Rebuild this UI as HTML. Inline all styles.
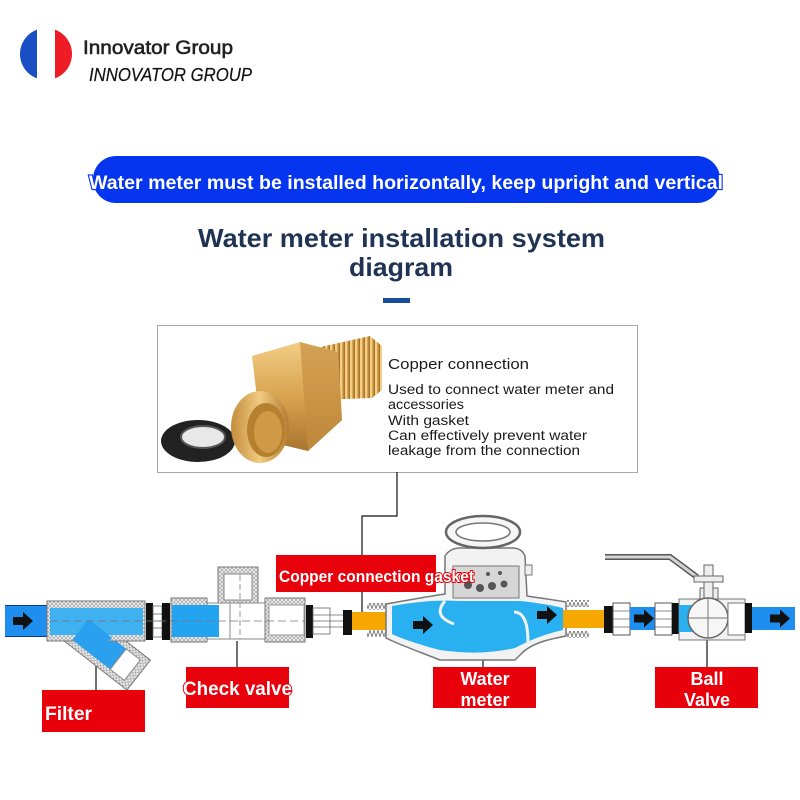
<!DOCTYPE html>
<html><head><meta charset="utf-8">
<style>html,body{margin:0;padding:0;background:#fff}svg{display:block}</style>
</head>
<body>
<svg width="800" height="800" viewBox="0 0 800 800" xmlns="http://www.w3.org/2000/svg" font-family="'Liberation Sans', Arial, sans-serif">
<defs>
<pattern id="hatch" width="4" height="4" patternUnits="userSpaceOnUse"><rect width="4" height="4" fill="#ececec"/><path d="M0 0L4 4M4 0L0 4" stroke="#9a9a9a" stroke-width="0.6"/></pattern>
<pattern id="thr" width="4" height="7" patternUnits="userSpaceOnUse"><path d="M0 7L2 0L4 7" fill="none" stroke="#777" stroke-width="0.9"/></pattern>
<pattern id="brassThr" width="5" height="60" patternUnits="userSpaceOnUse"><rect width="5" height="60" fill="#d9a553"/><rect width="2" height="60" fill="#f3cf86"/><rect x="3.5" width="1.5" height="60" fill="#a8742c"/></pattern>
<linearGradient id="brass" x1="0" y1="0" x2="0" y2="1"><stop offset="0" stop-color="#f2cd85"/><stop offset="0.5" stop-color="#d8a350"/><stop offset="1" stop-color="#a9742e"/></linearGradient>
<linearGradient id="brass2" x1="0" y1="0" x2="1" y2="0"><stop offset="0" stop-color="#c58c3c"/><stop offset="0.5" stop-color="#f0cb82"/><stop offset="1" stop-color="#b47d32"/></linearGradient>
<clipPath id="flagc"><circle cx="46" cy="54" r="26"/></clipPath>
<g id="arr"><path d="M0 -4 H10 V-9 L20 0 L10 9 V4 H0 Z" fill="#111"/></g>
</defs>

<!-- header -->
<g clip-path="url(#flagc)">
<rect x="18" y="26" width="19" height="56" fill="#1a4fc4"/>
<rect x="37" y="26" width="18" height="56" fill="#ffffff"/>
<rect x="55" y="26" width="20" height="56" fill="#ee1c25"/>
</g>
<text x="83" y="54" font-size="19.5" fill="#222" stroke="#222" stroke-width="0.6" textLength="150" lengthAdjust="spacingAndGlyphs">Innovator Group</text>
<text x="89" y="81" font-size="18" font-style="italic" fill="#111" stroke="#111" stroke-width="0.2" textLength="163" lengthAdjust="spacingAndGlyphs">INNOVATOR GROUP</text>

<!-- banner -->
<rect x="93" y="156" width="627" height="47" rx="23" fill="#0535ee"/>
<text x="89" y="189" font-size="19" font-weight="bold" fill="#fff" stroke="#0535ee" stroke-width="2.2" paint-order="stroke" textLength="634" lengthAdjust="spacingAndGlyphs">Water meter must be installed horizontally, keep upright and vertical</text>

<!-- title -->
<text x="198" y="247" font-size="26" font-weight="bold" fill="#1f3354" textLength="407" lengthAdjust="spacingAndGlyphs">Water meter installation system</text>
<text x="349" y="276" font-size="26" font-weight="bold" fill="#1f3354" textLength="104" lengthAdjust="spacingAndGlyphs">diagram</text>
<rect x="383" y="298" width="27" height="5" fill="#1a4c9c"/>

<!-- info box -->
<rect x="157.5" y="325.5" width="480" height="147" fill="#fff" stroke="#a8a8a8"/>
<!-- gasket -->
<ellipse cx="198" cy="441" rx="37" ry="21" fill="#222"/>
<ellipse cx="203" cy="437" rx="22" ry="11" fill="#e8e8e8" stroke="#555" stroke-width="2"/>
<!-- brass fitting -->
<polygon points="316,348 370,336 382,346 382,390 372,398 318,400" fill="url(#brassThr)"/>
<polygon points="252,356 300,342 338,352 342,420 308,451 262,440" fill="url(#brass)"/>
<polygon points="300,342 338,352 342,420 308,451" fill="#c48f42" opacity="0.7"/>
<ellipse cx="260" cy="427" rx="29" ry="36" fill="url(#brass2)"/>
<ellipse cx="266" cy="430" rx="19" ry="27" fill="#b7802f"/>
<ellipse cx="268" cy="432" rx="14" ry="21" fill="#cf9a48"/>

<text x="388" y="369" font-size="15" fill="#1a1a1a" textLength="141" lengthAdjust="spacingAndGlyphs">Copper connection</text>
<g font-size="13.5" fill="#1a1a1a">
<text x="388" y="394" textLength="226" lengthAdjust="spacingAndGlyphs">Used to connect water meter and</text>
<text x="388" y="409" textLength="76" lengthAdjust="spacingAndGlyphs">accessories</text>
<text x="388" y="425" textLength="81" lengthAdjust="spacingAndGlyphs">With gasket</text>
<text x="388" y="440" textLength="199" lengthAdjust="spacingAndGlyphs">Can effectively prevent water</text>
<text x="388" y="455" textLength="192" lengthAdjust="spacingAndGlyphs">leakage from the connection</text>
</g>

<!-- connectors -->
<g stroke="#111" stroke-width="1.2" fill="none">
<polyline points="397,472 397,516 362,516 362,612"/>
<line x1="96" y1="660" x2="96" y2="690"/>
<line x1="237" y1="641" x2="237" y2="667"/>
<line x1="483" y1="656" x2="483" y2="667"/>
<line x1="707" y1="638" x2="707" y2="667"/>
</g>

<!-- left pipe -->
<rect x="5" y="605" width="43" height="32" fill="#1e8fee"/>
<line x1="5" y1="605.5" x2="48" y2="605.5" stroke="#0a3a8a"/>
<line x1="5" y1="636.5" x2="48" y2="636.5" stroke="#0a3a8a"/>
<use href="#arr" x="13" y="621"/>

<!-- filter -->
<g transform="translate(104,648) rotate(38)">
<rect x="-38" y="-19" width="82" height="38" fill="url(#hatch)" stroke="#777"/>
<rect x="-30" y="-13" width="48" height="26" fill="#2aa0ee"/>
<rect x="18" y="-13" width="18" height="26" fill="#fff" stroke="#888"/>
</g>
<rect x="47" y="601" width="98" height="40" fill="url(#hatch)" stroke="#777"/>
<rect x="50" y="608" width="93" height="27" fill="#3fb0f0"/>
<g transform="translate(104,648) rotate(38)">
<rect x="-30" y="-13" width="30" height="26" fill="#2aa0ee"/>
</g>

<!-- gaskets after filter -->
<rect x="146" y="603" width="7" height="37" fill="#111"/>
<rect x="153" y="606" width="9" height="31" fill="#fff" stroke="#666" stroke-width="0.8"/>
<g stroke="#666" stroke-width="0.8"><line x1="153" y1="614" x2="162" y2="614"/><line x1="153" y1="621" x2="162" y2="621"/><line x1="153" y1="628" x2="162" y2="628"/></g>
<rect x="162" y="603" width="8" height="37" fill="#111"/>

<!-- check valve -->
<rect x="218" y="567" width="40" height="36" fill="url(#hatch)" stroke="#777"/>
<rect x="224" y="574" width="28" height="26" fill="#fff" stroke="#888"/>
<rect x="205" y="603" width="62" height="36" fill="#fff" stroke="#888"/>
<rect x="171" y="598" width="36" height="44" fill="url(#hatch)" stroke="#777"/>
<rect x="172" y="605" width="47" height="32" fill="#22a4f0"/>
<rect x="265" y="598" width="40" height="44" fill="url(#hatch)" stroke="#777"/>
<rect x="269" y="605" width="35" height="30" fill="#fff" stroke="#999"/>
<line x1="230" y1="603" x2="230" y2="639" stroke="#888"/>
<line x1="240" y1="575" x2="240" y2="639" stroke="#999" stroke-dasharray="6 3"/>
<line x1="50" y1="621" x2="305" y2="621" stroke="#777" stroke-dasharray="8 4" stroke-width="0.8"/>

<!-- gaskets before meter -->
<rect x="306" y="605" width="7" height="33" fill="#111"/>
<rect x="313" y="608" width="17" height="26" fill="#fff" stroke="#666" stroke-width="0.8"/>
<g stroke="#666" stroke-width="0.8"><line x1="313" y1="615" x2="343" y2="615"/><line x1="313" y1="621" x2="343" y2="621"/><line x1="313" y1="627" x2="343" y2="627"/></g>
<rect x="343" y="610" width="9" height="25" fill="#111"/>
<rect x="352" y="612" width="40" height="18" fill="#f6a800"/>
<rect x="367" y="603" width="22" height="7" fill="url(#thr)"/>
<rect x="367" y="630" width="22" height="7" fill="url(#thr)"/>

<!-- water meter -->
<path d="M386,604 C410,600 430,596 445,594 L445,556 Q450,548 460,548 L512,548 Q522,548 525,556 L527,596 C540,598 555,600 566,602 L566,636 C545,640 530,644 520,655 L515,660 L440,660 C420,652 400,645 386,638 Z" fill="#f2f2f2" stroke="#777" stroke-width="1.5"/>
<path d="M392,606 C420,601 440,600 460,601 L520,601 C540,603 555,606 563,608 L563,630 C545,634 530,640 515,648 Q480,656 440,650 C420,645 400,638 392,634 Z" fill="#29b0f0"/>
<path d="M445,601 Q432,616 454,624" fill="none" stroke="#f2f2f2" stroke-width="3"/>
<path d="M514,612 Q528,612 528,642" fill="none" stroke="#f2f2f2" stroke-width="3"/>
<rect x="453" y="566" width="66" height="32" fill="#d6d6d6" stroke="#777"/>
<g fill="#555"><circle cx="468" cy="585" r="4"/><circle cx="480" cy="588" r="4"/><circle cx="492" cy="586" r="4"/><circle cx="504" cy="584" r="3.5"/><circle cx="488" cy="574" r="2"/><circle cx="500" cy="573" r="2"/></g>
<rect x="525" y="565" width="7" height="10" fill="#eee" stroke="#777"/>
<ellipse cx="483" cy="532" rx="37" ry="16" fill="#f6f6f6" stroke="#666" stroke-width="2.5"/>
<ellipse cx="483" cy="532" rx="27" ry="9" fill="#fff" stroke="#777" stroke-width="1.5"/>
<use href="#arr" x="413" y="625"/>
<use href="#arr" x="537" y="615"/>

<!-- right side of meter -->
<rect x="563" y="610" width="41" height="18" fill="#f6a800"/>
<rect x="567" y="600" width="22" height="7" fill="url(#thr)"/>
<rect x="567" y="631" width="22" height="7" fill="url(#thr)"/>
<rect x="604" y="606" width="9" height="27" fill="#111"/>
<rect x="613" y="603" width="17" height="32" fill="#fff" stroke="#555"/>
<g stroke="#666" stroke-width="0.8"><line x1="613" y1="611" x2="630" y2="611"/><line x1="613" y1="619" x2="630" y2="619"/><line x1="613" y1="627" x2="630" y2="627"/></g>
<rect x="630" y="607" width="25" height="23" fill="#1e8fee"/>
<use href="#arr" x="634" y="618.5"/>
<rect x="655" y="603" width="17" height="32" fill="#fff" stroke="#555"/>
<g stroke="#666" stroke-width="0.8"><line x1="655" y1="611" x2="672" y2="611"/><line x1="655" y1="619" x2="672" y2="619"/><line x1="655" y1="627" x2="672" y2="627"/></g>
<rect x="672" y="603" width="7" height="31" fill="#111"/>

<!-- ball valve -->
<polyline points="605,557 670,557 697,577" fill="none" stroke="#555" stroke-width="6"/>
<polyline points="605,557 670,557 697,577" fill="none" stroke="#d4d4d4" stroke-width="3"/>
<rect x="700" y="588" width="18" height="12" fill="#eee" stroke="#666"/>
<rect x="704" y="565" width="9" height="35" fill="#eee" stroke="#666"/>
<rect x="694" y="576" width="29" height="6" fill="#eee" stroke="#666"/>
<path d="M679,599 L745,599 L745,640 L679,640 Z" fill="#f2f2f2" stroke="#777"/>
<rect x="679" y="605" width="15" height="27" fill="#29b0f0"/>
<circle cx="708" cy="618" r="20" fill="#f6f6f6" stroke="#666" stroke-width="1.5"/>
<line x1="688" y1="618" x2="728" y2="618" stroke="#777"/>
<line x1="708" y1="598" x2="708" y2="638" stroke="#777"/>
<rect x="728" y="603" width="17" height="32" fill="#fff" stroke="#777"/>
<rect x="745" y="603" width="7" height="30" fill="#111"/>
<rect x="752" y="607" width="43" height="23" fill="#1e8fee"/>
<use href="#arr" x="770" y="618.5"/>

<!-- red labels -->
<g font-weight="bold" fill="#fff" stroke="#e8000b" stroke-width="2" paint-order="stroke">
<rect x="276" y="555" width="160" height="37" fill="#e8000b" stroke="none"/>
<text x="279" y="582" font-size="16.5" textLength="195" lengthAdjust="spacingAndGlyphs">Copper connection gasket</text>
<rect x="42" y="690" width="103" height="42" fill="#e8000b" stroke="none"/>
<text x="45" y="720" font-size="19" textLength="47" lengthAdjust="spacingAndGlyphs">Filter</text>
<rect x="186" y="667" width="103" height="41" fill="#e8000b" stroke="none"/>
<text x="183" y="695" font-size="19" textLength="109" lengthAdjust="spacingAndGlyphs">Check valve</text>
<rect x="433" y="667" width="103" height="41" fill="#e8000b" stroke="none"/>
<text x="485" y="685" font-size="18" text-anchor="middle">Water</text>
<text x="485" y="706" font-size="18" text-anchor="middle">meter</text>
<rect x="655" y="667" width="103" height="41" fill="#e8000b" stroke="none"/>
<text x="707" y="685" font-size="18" text-anchor="middle">Ball</text>
<text x="707" y="706" font-size="18" text-anchor="middle">Valve</text>
</g>
</svg>
</body></html>
